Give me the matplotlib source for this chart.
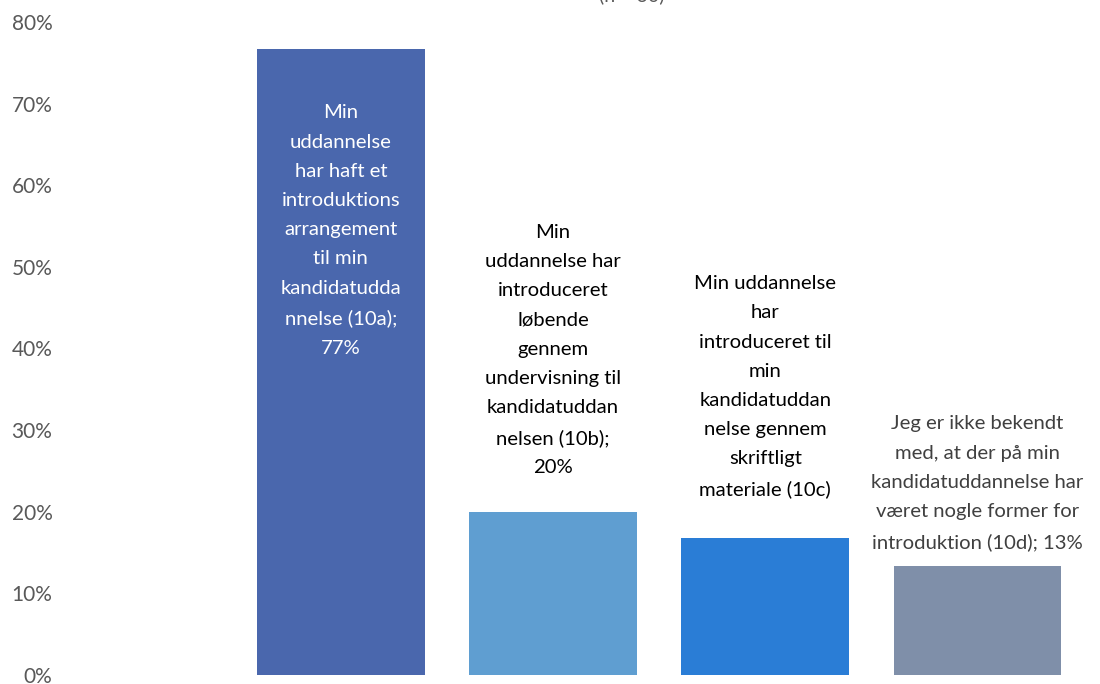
import matplotlib
matplotlib.use("Agg")
import matplotlib.pyplot as plt
from matplotlib.ticker import PercentFormatter

plt.rcParams['font.family'] = ['Lato', 'DejaVu Sans']

categories = [
    "Min\nuddannelse\nhar haft et\nintroduktions\narrangement\ntil min\nkandidatudda\nnnelse (10a);\n77%",
    "Min\nuddannelse har\nintroduceret\nløbende\ngennem\nundervisning til\nkandidatuddan\nnelsen (10b);\n20%",
    "Min uddannelse\nhar\nintroduceret til\nmin\nkandidatuddan\nnelse gennem\nskriftligt\nmateriale (10c)",
    "Jeg er ikke bekendt\nmed, at der på min\nkandidatuddannelse har\nværet nogle former for\nintroduktion (10d); 13%",
]
values = [0.767, 0.200, 0.167, 0.133]
colors = ["#4A67AD", "#5F9ED1", "#2A7DD6", "#7F8FA9"]
yticks = [0, 0.1, 0.2, 0.3, 0.4, 0.5, 0.6, 0.7, 0.8]
subtitle = "(n = 30)"

W, H = 1100, 684
fig = plt.figure(figsize=(W / 100, H / 100), dpi=100)
left_px, right_px, top_px, bot_px = 65, 1083.5, 22, 674.7
ax = fig.add_axes([left_px / W, (H - bot_px) / H, (right_px - left_px) / W, (bot_px - top_px) / H])

x = list(range(len(values)))
bars = ax.bar(x, values, width=0.79, color=colors)
ax.set_xlim(-1.30, 3.5)
ax.set_ylim(0, 0.8)
ax.set_yticks(yticks)
ax.yaxis.set_major_formatter(PercentFormatter(1.0, decimals=0))
ax.tick_params(axis='y', length=0, labelsize=15, labelcolor="#595959", pad=9)
ax.set_xticks([])
for s in ax.spines.values():
    s.set_visible(False)

fs = 14.6
ls = 1.87
# first label inside the bar (white)
ax.annotate(categories[0], xy=(x[0], values[0]), xytext=(0, -40), textcoords="offset points",
            ha="center", va="top", color="white", fontsize=fs, linespacing=ls)
label_colors = [None, "#000000", "#000000", "#404040"]
offsets = [None, 25.5, 29, 11]
for i in range(1, 4):
    ax.annotate(categories[i], xy=(x[i], values[i]), xytext=(0, offsets[i]), textcoords="offset points",
                ha="center", va="bottom", color=label_colors[i], fontsize=fs, linespacing=ls)

fig.text(632 / W, 1 - 1 / H, subtitle, ha="center", va="baseline", color="#595959", fontsize=14)

fig.savefig("out.png", dpi=100)
